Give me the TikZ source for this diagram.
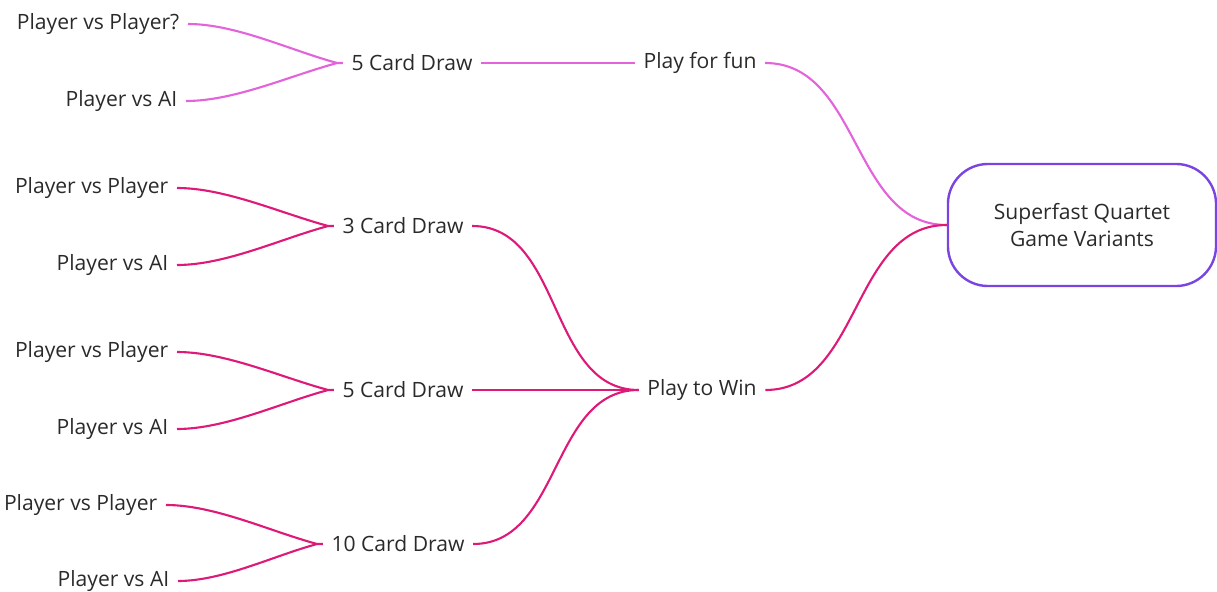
\documentclass[tikz,border=0pt]{standalone}
\usepackage{fontspec}
\setmainfont{Open Sans}
\usepackage{xcolor}
\usetikzlibrary{positioning}

\definecolor{funpink}{HTML}{E462DC}
\definecolor{winpink}{HTML}{DE1A78}
\definecolor{rootpurple}{HTML}{7A44E2}
\definecolor{labelgray}{HTML}{2A2A2A}

\begin{document}
\begin{tikzpicture}[
    x=0.025cm, y=-0.025cm,
    every node/.style={font=\fontsize{15}{19}\selectfont, text=labelgray},
    item/.style={inner xsep=6pt, inner ysep=3pt},
    leaf/.style={item, anchor=east},
    root/.style={rectangle, draw=rootpurple, line width=1.7pt, rounded corners=1.0cm, minimum width=6.7cm, minimum height=3.05cm, align=center},
    funlink/.style={funpink, line width=1.5pt},
    winlink/.style={winpink, line width=1.5pt}
]
    \useasboundingbox (0,0) rectangle (1217,592);

    % Root
    \node[root] (root) at (1082,225) {Superfast Quartet\\Game Variants};

    % Play for fun
    \node[item] (fun) at (700,63) {Play for fun};
    \node[item] (fivea) at (412,63) {5 Card Draw};
    \node[leaf] (pvpa) at (188,24) {Player vs Player?};
    \node[leaf] (pvaia) at (186,101) {Player vs AI};

    % Play to Win
    \node[item] (win) at (702,390) {Play to Win};
    \node[item] (three) at (403,226) {3 Card Draw};
    \node[leaf] (pvpb) at (177,188) {Player vs Player};
    \node[leaf] (pvaib) at (177,265) {Player vs AI};

    \node[item] (fiveb) at (403,390) {5 Card Draw};
    \node[leaf] (pvpc) at (177,352) {Player vs Player};
    \node[leaf] (pvaic) at (177,429) {Player vs AI};

    \node[item] (ten) at (398,544) {10 Card Draw};
    \node[leaf] (pvpd) at (166,505) {Player vs Player};
    \node[leaf] (pvaid) at (178,581) {Player vs AI};

    % Links for fun
    \draw[funlink] (fun.east) to[out=0,in=180] (root.west);
    \draw[funlink] (fivea.east) -- (fun.west);
    \draw[funlink] (pvpa.east) to[out=0,in=165,looseness=0.8] ([xshift=-4pt]fivea.west) -- (fivea.west);
    \draw[funlink] (pvaia.east) to[out=0,in=195,looseness=0.8] ([xshift=-4pt]fivea.west);

    % Links to win
    \draw[winlink] (win.east) to[out=0,in=180] (root.west);
    \draw[winlink] (three.east) to[out=0,in=180] (win.west);
    \draw[winlink] (fiveb.east) -- (win.west);
    \draw[winlink] (ten.east) to[out=0,in=180] (win.west);
    \foreach \p/\a/\m in {pvpb/pvaib/three, pvpc/pvaic/fiveb, pvpd/pvaid/ten} {
        \draw[winlink] (\p.east) to[out=0,in=165,looseness=0.8] ([xshift=-4pt]\m.west) -- (\m.west);
        \draw[winlink] (\a.east) to[out=0,in=195,looseness=0.8] ([xshift=-4pt]\m.west);
    }
\end{tikzpicture}
\end{document}
